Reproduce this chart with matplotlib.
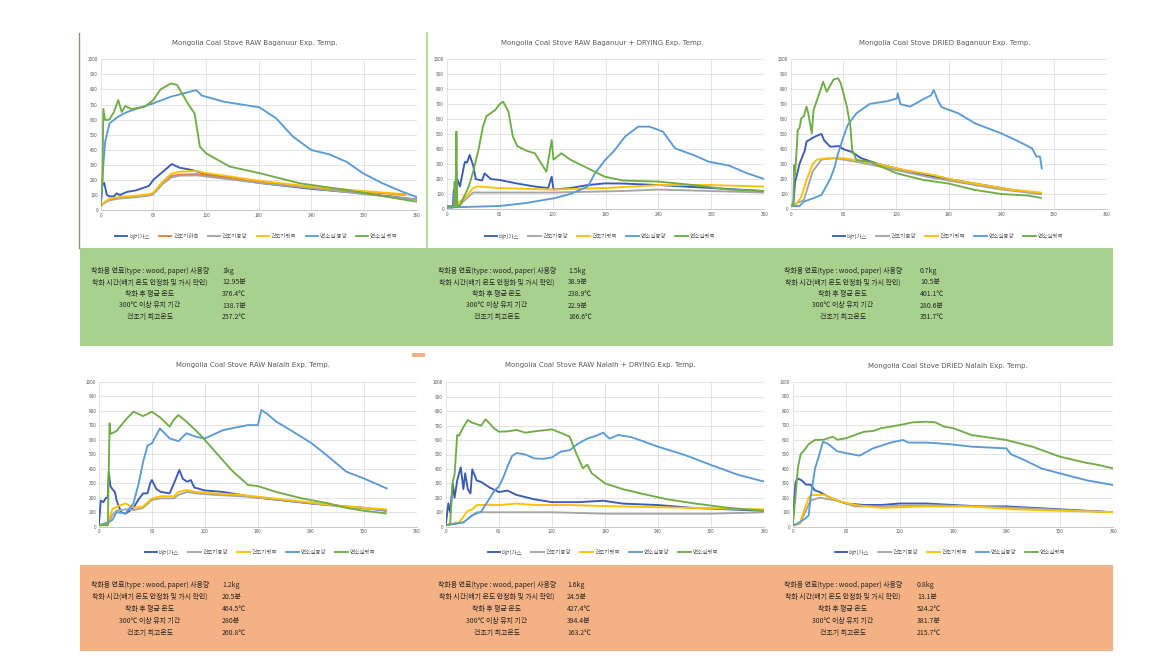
import matplotlib
matplotlib.use("Agg")
import matplotlib.pyplot as plt
from matplotlib.patches import Rectangle
from matplotlib.lines import Line2D

plt.rcParams['font.family'] = ['Noto Sans CJK KR', 'DejaVu Sans']

W, H = 1167, 656

# ---------------- DATA ----------------
# Chart 1: RAW Baganuur
c1_exh_t = [0, 2, 4, 7, 10, 15, 18, 22, 30, 40, 50, 55, 60, 70, 81, 90, 100, 120, 180, 240, 300, 360]
c1_exh_v = [30, 170, 180, 100, 90, 90, 110, 100, 120, 130, 150, 160, 200, 250, 305, 280, 270, 240, 180, 140, 110, 70]
c1_low_t = [0, 5, 10, 20, 40, 55, 60, 70, 80, 90, 110, 120, 180, 240, 300, 347]
c1_low_v = [30, 50, 70, 80, 90, 100, 110, 175, 225, 235, 238, 230, 185, 150, 120, 100]
c1_mid_t = [0, 5, 10, 20, 40, 55, 60, 70, 80, 90, 110, 120, 180, 240, 300, 360]
c1_mid_v = [30, 50, 65, 75, 85, 95, 105, 170, 215, 228, 230, 222, 180, 145, 105, 70]
c1_top_t = [0, 5, 10, 20, 40, 55, 60, 70, 80, 90, 110, 120, 180, 240, 300, 347]
c1_top_v = [30, 55, 75, 85, 95, 105, 115, 185, 240, 255, 258, 245, 195, 155, 125, 105]
c1_cmid_t = [0, 1, 2, 3, 5, 10, 20, 30, 40, 60, 80, 109, 115, 140, 181, 200, 219, 240, 260, 280, 299, 320, 340, 360]
c1_cmid_v = [30, 120, 200, 300, 450, 575, 620, 650, 670, 708, 752, 796, 760, 719, 681, 608, 487, 398, 370, 320, 243, 180, 130, 85]
c1_ctop_t = [0, 2, 3, 5, 10, 15, 20, 24, 28, 35, 50, 60, 68, 80, 87, 100, 107, 113, 120, 147, 182, 227, 280, 318, 360]
c1_ctop_v = [30, 200, 670, 597, 600, 650, 730, 650, 690, 670, 685, 730, 800, 840, 830, 700, 640, 420, 376, 288, 243, 177, 133, 95, 55]

# Chart 2: RAW Baganuur + DRYING
c2_exh_t = [0, 7, 8, 10, 12, 15, 20, 21, 23, 26, 30, 33, 40, 43, 50, 60, 80, 100, 115, 119, 121, 140, 160, 179, 200, 240, 300, 360]
c2_exh_v = [10, 10, 127, 90, 200, 150, 300, 316, 310, 361, 290, 200, 190, 238, 200, 194, 170, 150, 140, 216, 130, 140, 160, 171, 170, 160, 140, 120]
c2_mid_t = [0, 15, 30, 40, 120, 200, 240, 300, 360]
c2_mid_v = [10, 30, 110, 110, 110, 120, 130, 120, 110]
c2_top_t = [0, 10, 15, 20, 30, 35, 60, 120, 150, 180, 240, 300, 360]
c2_top_v = [10, 20, 50, 70, 140, 150, 140, 130, 135, 140, 160, 160, 150]
c2_cmid_t = [0, 60, 90, 121, 140, 160, 168, 180, 190, 202, 217, 230, 245, 259, 280, 297, 320, 340, 360]
c2_cmid_v = [10, 20, 40, 71, 100, 150, 238, 330, 390, 483, 550, 550, 517, 405, 360, 316, 290, 240, 200]
c2_ctop_t = [0, 8, 9, 10, 11, 12, 15, 17, 25, 30, 36, 41, 45, 55, 60, 64, 70, 75, 80, 90, 100, 113, 119, 121, 130, 140, 160, 179, 200, 240, 280, 320, 360]
c2_ctop_v = [20, 20, 182, 20, 517, 20, 20, 50, 150, 250, 394, 550, 620, 661, 700, 717, 650, 483, 420, 390, 372, 249, 461, 330, 372, 330, 272, 216, 190, 183, 160, 130, 120]

# Chart 3: DRIED Baganuur
c3_exh_t = [0, 3, 5, 8, 10, 14, 16, 18, 24, 30, 35, 38, 45, 55, 60, 70, 80, 100, 150, 200, 250, 285]
c3_exh_v = [20, 30, 182, 250, 300, 361, 390, 450, 472, 490, 501, 460, 416, 420, 400, 380, 340, 300, 230, 180, 130, 100]
c3_mid_t = [0, 15, 25, 35, 50, 80, 120, 160, 200, 240, 285]
c3_mid_v = [20, 60, 250, 330, 340, 310, 260, 210, 170, 130, 100]
c3_top_t = [0, 5, 12, 18, 25, 30, 41, 60, 80, 100, 130, 160, 190, 220, 250, 285]
c3_top_v = [20, 20, 80, 194, 300, 330, 339, 340, 320, 300, 260, 230, 190, 160, 130, 110]
c3_cmid_t = [0, 10, 15, 25, 35, 45, 50, 54, 60, 65, 75, 90, 110, 121, 122, 125, 136, 150, 160, 163, 168, 172, 191, 210, 240, 260, 275, 280, 284, 286]
c3_cmid_v = [20, 20, 50, 70, 94, 200, 280, 372, 480, 561, 640, 702, 720, 739, 773, 700, 684, 730, 760, 795, 720, 680, 639, 572, 505, 450, 405, 350, 350, 272]
c3_ctop_t = [0, 3, 4, 5, 7, 8, 10, 12, 15, 18, 20, 24, 26, 30, 37, 41, 49, 54, 57, 60, 64, 68, 70, 75, 90, 121, 151, 180, 210, 240, 270, 285]
c3_ctop_v = [20, 30, 294, 230, 420, 528, 540, 606, 620, 684, 640, 505, 660, 728, 850, 784, 866, 873, 840, 773, 684, 550, 394, 327, 316, 238, 194, 170, 127, 100, 90, 75]

# Chart 4: RAW Nalaih
c4_exh_t = [0, 2, 5, 8, 10, 11, 13, 15, 18, 20, 25, 30, 35, 40, 45, 50, 55, 58, 60, 65, 70, 80, 85, 91, 95, 100, 104, 108, 120, 140, 180, 240, 300, 325]
c4_exh_v = [20, 180, 170, 200, 200, 379, 280, 260, 240, 180, 100, 90, 110, 140, 190, 230, 230, 300, 322, 260, 240, 230, 300, 391, 330, 310, 322, 270, 250, 240, 200, 160, 130, 110]
c4_mid_t = [0, 10, 15, 20, 30, 40, 50, 60, 70, 85, 90, 100, 110, 130, 160, 190, 220, 250, 280, 325]
c4_mid_v = [10, 15, 80, 110, 120, 115, 130, 185, 195, 195, 220, 240, 230, 220, 210, 195, 175, 155, 135, 115]
c4_top_t = [0, 10, 15, 20, 30, 40, 50, 60, 70, 85, 90, 99, 110, 130, 160, 190, 220, 250, 280, 325]
c4_top_v = [10, 20, 120, 138, 160, 130, 140, 195, 210, 210, 240, 253, 240, 230, 220, 200, 180, 160, 140, 120]
c4_cmid_t = [0, 10, 15, 20, 30, 39, 45, 50, 55, 60, 69, 80, 90, 99, 110, 120, 141, 169, 180, 184, 190, 201, 220, 241, 260, 280, 300, 326]
c4_cmid_v = [10, 30, 46, 100, 92, 161, 300, 448, 560, 575, 678, 609, 590, 644, 620, 609, 667, 701, 700, 805, 780, 724, 655, 575, 483, 380, 333, 264]
c4_ctop_t = [0, 10, 12, 13, 20, 30, 39, 50, 60, 70, 80, 85, 90, 100, 115, 130, 150, 169, 180, 200, 230, 260, 280, 300, 325]
c4_ctop_v = [10, 10, 713, 640, 660, 736, 793, 763, 793, 750, 690, 740, 770, 720, 632, 529, 391, 287, 280, 241, 195, 161, 130, 110, 92]

# Chart 5: RAW Nalaih + DRYING
c5_exh_t = [0, 3, 5, 8, 10, 13, 17, 20, 22, 25, 28, 30, 35, 40, 50, 60, 70, 80, 100, 120, 150, 178, 200, 240, 280, 360]
c5_exh_v = [10, 162, 100, 300, 200, 320, 411, 260, 370, 260, 230, 397, 320, 310, 270, 240, 250, 220, 190, 170, 170, 180, 160, 150, 130, 110]
c5_mid_t = [0, 20, 35, 60, 120, 180, 240, 300, 360]
c5_mid_v = [10, 30, 100, 100, 100, 90, 90, 90, 100]
c5_top_t = [0, 15, 25, 30, 35, 60, 80, 100, 140, 200, 280, 360]
c5_top_v = [10, 30, 110, 120, 150, 150, 160, 150, 150, 140, 130, 120]
c5_cmid_t = [0, 10, 20, 30, 40, 50, 55, 60, 65, 70, 75, 80, 90, 100, 110, 120, 130, 140, 150, 160, 170, 178, 185, 195, 210, 240, 270, 300, 330, 360]
c5_cmid_v = [10, 20, 30, 80, 104, 200, 250, 277, 340, 420, 490, 510, 500, 473, 470, 480, 520, 530, 577, 610, 630, 651, 610, 635, 620, 554, 497, 427, 360, 312]
c5_ctop_t = [0, 5, 8, 10, 13, 15, 20, 25, 30, 40, 45, 55, 60, 70, 80, 90, 100, 120, 130, 140, 148, 155, 160, 165, 180, 200, 220, 250, 280, 320, 360]
c5_ctop_v = [10, 20, 312, 360, 635, 630, 690, 739, 720, 700, 744, 680, 658, 660, 670, 651, 660, 674, 650, 624, 500, 404, 430, 370, 300, 260, 231, 190, 162, 130, 110]

# Chart 6: DRIED Nalaih
c6_exh_t = [0, 3, 5, 10, 15, 20, 25, 30, 40, 50, 60, 80, 100, 120, 150, 180, 210, 240, 300, 360]
c6_exh_v = [10, 300, 333, 320, 290, 290, 250, 240, 207, 180, 160, 150, 150, 160, 160, 150, 140, 140, 120, 100]
c6_mid_t = [0, 8, 20, 30, 50, 70, 100, 150, 200, 250, 360]
c6_mid_v = [10, 20, 180, 200, 180, 140, 140, 150, 140, 130, 100]
c6_top_t = [0, 8, 12, 18, 21, 35, 50, 70, 100, 150, 200, 250, 300, 360]
c6_top_v = [10, 20, 100, 200, 218, 220, 180, 150, 130, 140, 140, 120, 110, 100]
c6_cmid_t = [0, 5, 15, 18, 20, 25, 30, 34, 40, 50, 61, 75, 90, 110, 124, 130, 150, 175, 201, 240, 245, 260, 280, 300, 330, 360]
c6_cmid_v = [10, 20, 60, 80, 200, 400, 500, 586, 570, 520, 506, 490, 540, 580, 598, 580, 580, 570, 552, 540, 500, 460, 400, 368, 320, 287]
c6_ctop_t = [0, 3, 6, 9, 12, 18, 25, 35, 45, 50, 60, 80, 90, 100, 120, 135, 150, 160, 170, 180, 201, 240, 270, 300, 330, 340, 360]
c6_ctop_v = [10, 200, 414, 501, 520, 570, 598, 600, 621, 600, 610, 655, 660, 680, 701, 720, 724, 720, 690, 680, 632, 598, 550, 483, 440, 430, 402]

# Labels / text
titles = ["Mongolia Coal Stove RAW Baganuur Exp. Temp.",
          "Mongolia Coal Stove RAW Baganuur + DRYING Exp. Temp.",
          "Mongolia Coal Stove DRIED Baganuur Exp. Temp.",
          "Mongolia Coal Stove RAW Nalaih Exp. Temp.",
          "Mongolia Coal Stove RAW Nalaih + DRYING Exp. Temp.",
          "Mongolia Coal Stove DRIED Nalaih Exp. Temp."]
legend6 = ['배기가스', '건조기하측', '건조기중앙', '건조기윗쪽', '연소실 중앙', '연소실 윗쪽']
legend5 = ['배기가스', '건조기중앙', '건조기윗쪽', '연소실중앙', '연소실윗쪽']
x_ticks = [0, 60, 120, 180, 240, 300, 360]
y_ticks = [0, 100, 200, 300, 400, 500, 600, 700, 800, 900, 1000]

info_labels = ["착화용 연료(type : wood, paper) 사용량",
               "착화 시간(배기 온도 안정화 및 가시 확인)",
               "착화 후 평균 온도",
               "300℃ 이상 유지 기간",
               "건조기 최고온도"]
info1 = ["1kg", "12.95분", "376.4℃", "138.7분", "257.2℃"]
info2 = ["1.5kg", "38.9분", "238.9℃", "22.9분", "166.6℃"]
info3 = ["0.7kg", "10.5분", "401.1℃", "280.6분", "351.7℃"]
info4 = ["1.2kg", "20.5분", "464.5℃", "280분", "260.8℃"]
info5 = ["1.6kg", "24.5분", "427.4℃", "394.4분", "163.2℃"]
info6 = ["0.8kg", "13.1분", "524.2℃", "381.7분", "215.7℃"]

# ---------------- STYLE ----------------
C_EXH = '#3A5BB8'
C_LOW = '#ED7D31'
C_MID = '#A5A5A5'
C_TOP = '#FFC000'
C_CMID = '#5B9BD5'
C_CTOP = '#70AD47'

fig = plt.figure(figsize=(W / 100, H / 100), dpi=100)
fig.patch.set_facecolor('white')


def fx(px):
    return px / W


def fy(py):
    return 1 - py / H


# Background boxes
fig.patches.append(Rectangle((fx(80), fy(346)), fx(1113) - fx(80), fy(248) - fy(346),
                             transform=fig.transFigure, facecolor='#A9D18E', edgecolor='none', zorder=0))
fig.patches.append(Rectangle((fx(80), fy(651)), fx(1113) - fx(80), fy(565) - fy(651),
                             transform=fig.transFigure, facecolor='#F4B183', edgecolor='none', zorder=0))
fig.patches.append(Rectangle((fx(412), fy(357)), fx(13), fy(353) - fy(357),
                             transform=fig.transFigure, facecolor='#F4B183', edgecolor='none', zorder=0))
# vertical frame lines
fig.lines.append(Line2D([fx(79.5), fx(79.5)], [fy(33), fy(248)], transform=fig.transFigure,
                        color='#7F9F6F', lw=1.0))
fig.lines.append(Line2D([fx(426.5), fx(426.5)], [fy(33), fy(248)], transform=fig.transFigure,
                        color='#A9D18E', lw=1.2))

# axes boxes in pixel coords: (left, right, top(y=1000), bottom(y=0))
boxes = [(100.7, 416.7, 59.3, 210.0),
         (446.7, 764.3, 59.3, 209.0),
         (790.7, 1106.7, 59.3, 209.0),
         (99.0, 416.7, 381.7, 526.7),
         (445.7, 764.3, 382.3, 526.7),
         (792.7, 1113.3, 381.7, 526.7)]
title_pos = [(255, 43), (602, 43), (945, 43), (253, 365), (600, 365), (948, 366)]
legend_pos = [(256, 236), (600, 236), (948, 236), (260, 552), (603, 552), (950, 552)]

series_sets = [
    [(c1_exh_t, c1_exh_v, C_EXH), (c1_low_t, c1_low_v, C_LOW), (c1_mid_t, c1_mid_v, C_MID),
     (c1_top_t, c1_top_v, C_TOP), (c1_cmid_t, c1_cmid_v, C_CMID), (c1_ctop_t, c1_ctop_v, C_CTOP)],
    [(c2_exh_t, c2_exh_v, C_EXH), (c2_mid_t, c2_mid_v, C_MID), (c2_top_t, c2_top_v, C_TOP),
     (c2_cmid_t, c2_cmid_v, C_CMID), (c2_ctop_t, c2_ctop_v, C_CTOP)],
    [(c3_exh_t, c3_exh_v, C_EXH), (c3_mid_t, c3_mid_v, C_MID), (c3_top_t, c3_top_v, C_TOP),
     (c3_cmid_t, c3_cmid_v, C_CMID), (c3_ctop_t, c3_ctop_v, C_CTOP)],
    [(c4_exh_t, c4_exh_v, C_EXH), (c4_mid_t, c4_mid_v, C_MID), (c4_top_t, c4_top_v, C_TOP),
     (c4_cmid_t, c4_cmid_v, C_CMID), (c4_ctop_t, c4_ctop_v, C_CTOP)],
    [(c5_exh_t, c5_exh_v, C_EXH), (c5_mid_t, c5_mid_v, C_MID), (c5_top_t, c5_top_v, C_TOP),
     (c5_cmid_t, c5_cmid_v, C_CMID), (c5_ctop_t, c5_ctop_v, C_CTOP)],
    [(c6_exh_t, c6_exh_v, C_EXH), (c6_mid_t, c6_mid_v, C_MID), (c6_top_t, c6_top_v, C_TOP),
     (c6_cmid_t, c6_cmid_v, C_CMID), (c6_ctop_t, c6_ctop_v, C_CTOP)],
]
legend_sets = [legend6, legend5, legend5, legend5, legend5, legend5]

for i, (l, r, t, b) in enumerate(boxes):
    ax = fig.add_axes([fx(l), fy(b), fx(r) - fx(l), fy(t) - fy(b)])
    ax.set_facecolor('none')
    handles = []
    for (xs, ys, col), lab in zip(series_sets[i], legend_sets[i]):
        h, = ax.plot(xs, ys, color=col, lw=1.35, label=lab, solid_joinstyle='round')
        handles.append(h)
    ax.set_xlim(0, 360)
    ax.set_ylim(0, 1000)
    ax.set_xticks(x_ticks)
    ax.set_yticks(y_ticks)
    ax.tick_params(labelsize=3.3, colors='#595959', length=0, pad=2)
    ax.grid(True, color='#D9D9D9', lw=0.5)
    ax.set_axisbelow(True)
    for s in ['top', 'right', 'left']:
        ax.spines[s].set_visible(False)
    ax.spines['bottom'].set_color('#BFBFBF')
    ax.spines['bottom'].set_linewidth(0.6)
    tx, ty = title_pos[i]
    fig.text(fx(tx), fy(ty), titles[i], ha='center', va='center', fontsize=5.0,
             color='#595959', family=['DejaVu Sans'])
    lx, ly = legend_pos[i]
    fig.legend(handles=handles, loc='center', bbox_to_anchor=(fx(lx), fy(ly)),
               ncol=len(handles), fontsize=4.0, frameon=False, handlelength=2.2,
               columnspacing=1.6, handletextpad=0.4, labelcolor='#595959')

# info boxes
info_sets = [info1, info2, info3, info4, info5, info6]
info_centers = [150, 497, 843, 150, 497, 843]
info_valx = [222, 568, 920, 222, 567, 917]
info_rows_top = [271, 282.5, 294, 305.5, 317]
info_rows_bot = [585, 597, 609, 621, 633]
for k in range(6):
    rows = info_rows_top if k < 3 else info_rows_bot
    for j in range(5):
        fig.text(fx(info_centers[k]), fy(rows[j]), info_labels[j], ha='center', va='center',
                 fontsize=5.0, color='#262626')
        fig.text(fx(info_valx[k]), fy(rows[j]), info_sets[k][j], ha='left', va='center',
                 fontsize=5.0, color='#262626')

fig.savefig('out.png', dpi=100)
